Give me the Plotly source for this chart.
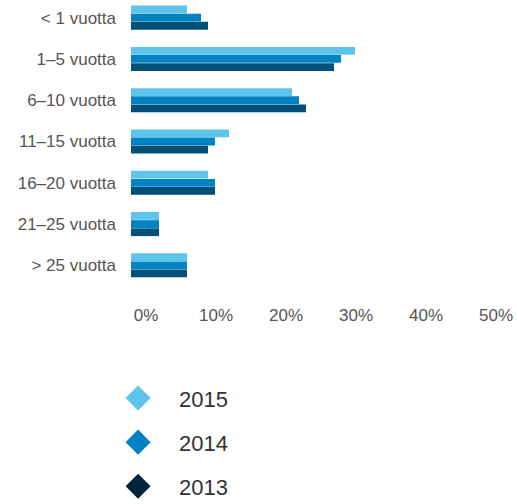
import plotly.graph_objects as go

categories = ["< 1 vuotta", "1–5 vuotta", "6–10 vuotta", "11–15 vuotta",
              "16–20 vuotta", "21–25 vuotta", "> 25 vuotta"]
years = ["2015", "2014", "2013"]
values_2015 = [8, 32, 23, 14, 11, 4, 8]
values_2014 = [10, 30, 24, 12, 12, 4, 8]
values_2013 = [11, 29, 25, 11, 12, 4, 8]
tick_vals = [0, 10, 20, 30, 40, 50]
tick_text = ["0%", "10%", "20%", "30%", "40%", "50%"]

bar_colors = {"2015": "#5FC4EB", "2014": "#0082C3", "2013": "#005078"}
legend_colors = {"2015": "#5FC4EB", "2014": "#0082C3", "2013": "#00233C"}
series = {"2015": values_2015, "2014": values_2014, "2013": values_2013}

fig = go.Figure()
for y in years:
    fig.add_trace(go.Bar(
        y=categories, x=series[y], orientation="h", name=y,
        marker=dict(color=bar_colors[y], line=dict(width=0)),
        showlegend=False, hoverinfo="skip"))
for y in years:
    fig.add_trace(go.Scatter(
        x=[None], y=[None], mode="markers", name=y, legendgroup=y,
        marker=dict(symbol="diamond", size=16, color=legend_colors[y],
                    line=dict(width=3, color=legend_colors[y])),
        showlegend=True))

fig.update_layout(
    width=517, height=504,
    margin=dict(l=131, r=29, t=0, b=218, autoexpand=False),
    paper_bgcolor="white", plot_bgcolor="white",
    barmode="group", bargap=0.41, bargroupgap=0.04,
    font=dict(family="Liberation Sans, Arial, sans-serif", color="#555555", size=17),
    xaxis=dict(range=[0, 51], tickvals=tick_vals, ticktext=tick_text,
               showgrid=False, zeroline=False, showline=False, ticks="",
               tickangle=0, automargin=False, ticklabeloverflow="allow",
               ticklabelshift=15, ticklabelstandoff=17,
               tickfont=dict(size=17, color="#555555")),
    yaxis=dict(categoryorder="array", categoryarray=categories,
               range=[6.5, -0.427], showgrid=False, zeroline=False,
               showline=False, ticks="", ticklabelstandoff=14, automargin=False,
               tickfont=dict(size=17, color="#555555")),
    legend=dict(x=-0.095, y=-0.319, xanchor="left", yanchor="top",
                tracegroupgap=12.5, itemwidth=72,
                font=dict(size=22, color="#333333"), traceorder="grouped"),
)

fig.write_html("out.html", config={"displayModeBar": False},
               post_script="document.body.style.margin='0';document.body.style.overflow='hidden';")
